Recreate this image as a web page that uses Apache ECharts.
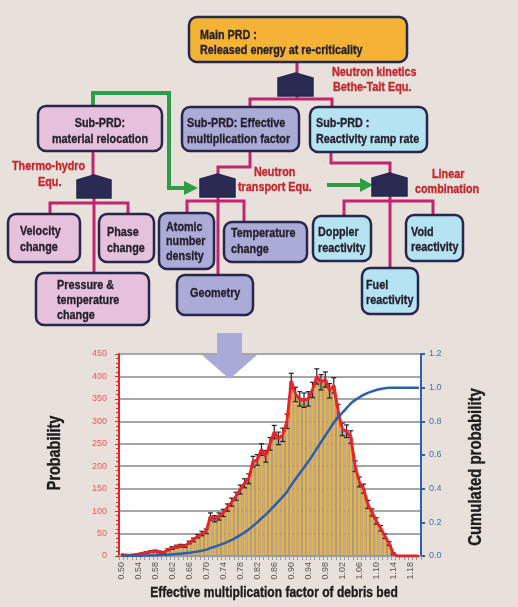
<!DOCTYPE html>
<html>
<head>
<meta charset="utf-8">
<script src="https://cdn.jsdelivr.net/npm/echarts@6/dist/echarts.min.js"></script>
<style>
html,body{margin:0;padding:0;background:#e8e0da;}
#c{width:518px;height:607px;}
</style>
</head>
<body>
<div id="c"></div>
<script>
// ---- data ----
const categories = ['0.50','0.51','0.52','0.53','0.54','0.55','0.56','0.57','0.58','0.59',
  '0.60','0.61','0.62','0.63','0.64','0.65','0.66','0.67','0.68','0.69',
  '0.70','0.71','0.72','0.73','0.74','0.75','0.76','0.77','0.78','0.79',
  '0.80','0.81','0.82','0.83','0.84','0.85','0.86','0.87','0.88','0.89',
  '0.90','0.91','0.92','0.93','0.94','0.95','0.96','0.97','0.98','0.99',
  '1.00','1.01','1.02','1.03','1.04','1.05','1.06','1.07','1.08','1.09',
  '1.10','1.11','1.12','1.13','1.14','1.15','1.16','1.17','1.18','1.19','1.20'];
const probability = [4,2,1,3,4,6,8,10,11,9,
  8,14,18,21,23,22,30,36,44,50,
  55,88,83,88,96,108,120,133,148,162,
  172,210,214,237,222,250,276,262,270,300,
  390,360,350,347,350,370,400,387,393,368,
  380,323,282,278,265,200,165,150,115,97,
  78,62,44,28,5,0,0,0,0,0,0];
const errorSize = [0,0,0,0,1,1,2,2,2,2,
  2,2,3,3,3,3,3,4,4,5,
  5,8,7,8,8,8,9,9,10,10,
  11,12,12,13,13,14,15,14,15,16,
  17,16,16,16,16,17,17,17,17,16,
  17,15,14,14,14,12,11,10,9,8,
  7,6,5,4,2,0,0,0,0,0,0];
const cumulated = [0.000,0.001,0.001,0.001,0.001,0.002,0.003,0.004,0.005,0.006,
  0.007,0.008,0.010,0.012,0.014,0.016,0.019,0.023,0.027,0.032,
  0.038,0.047,0.055,0.064,0.073,0.084,0.096,0.109,0.124,0.140,
  0.158,0.179,0.200,0.224,0.246,0.271,0.298,0.325,0.352,0.382,
  0.421,0.457,0.492,0.526,0.561,0.598,0.638,0.677,0.716,0.753,
  0.791,0.823,0.851,0.879,0.906,0.926,0.942,0.957,0.969,0.978,
  0.986,0.992,0.997,1.000,1.000,1.000,1.000,1.000,1.000,1.000,1.000];
const leftTicks = [0,50,100,150,200,250,300,350,400,450];
const rightTicks = ['0.0','0.2','0.4','0.6','0.8','1.0','1.2'];

// ---- diagram ----
const FONT = "'Liberation Sans',Arial,sans-serif";
const NAVY = '#27264c', PINK_LINE = '#c2246e', GREEN = '#2f9d48', RED_TXT = '#c3262f', TXT = '#241f2c';
const PINK = '#e6c1dc', LAV = '#aaabd6', BLUE = '#b6e3f2';
const g = [];
function line(pts, color, w){ g.push({type:'polyline', z:1, shape:{points:pts}, style:{stroke:color, lineWidth:w, fill:null}, silent:true}); }
function box(x,y,w,h,fill){ g.push({type:'rect', z:2, shape:{x:x,y:y,width:w,height:h,r:8}, style:{fill:fill, stroke:NAVY, lineWidth:2.5}, silent:true}); }
function gate(x0,y0,x1,y1){ const m=(x0+x1)/2; g.push({type:'polygon', z:3, shape:{points:[[m,y0],[x1,y0+5],[x1,y1],[x0,y1],[x0,y0+5]]}, style:{fill:'#2b2a52', stroke:NAVY, lineWidth:1.5}, silent:true}); }
function txt(s,x,y,opt){ opt=opt||{}; const c=opt.fill||TXT; g.push({type:'text', z:5, x:x, y:y, rotation:opt.rot||0, scaleX:opt.sx||0.83, scaleY:1, style:{text:s, fill:c, stroke:c, lineWidth:0.35, fontFamily:FONT, fontWeight:'bold', fontSize:opt.size||13, align:opt.align||'left', verticalAlign:'middle'}, silent:true}); }

// connectors
line([[297,62],[297,99]], PINK_LINE, 3);
line([[250,107],[250,99],[332,99],[332,107]], PINK_LINE, 3);
line([[93,151],[93,178]], PINK_LINE, 3);
line([[250,151],[250,167],[218,167],[218,178]], PINK_LINE, 3);
line([[331,152],[331,163],[390,163],[390,177]], PINK_LINE, 3);
line([[50,214],[50,203],[128,203],[128,214]], PINK_LINE, 3);
line([[94,198],[94,273]], PINK_LINE, 3);
line([[187,213],[187,201],[244,201],[244,222]], PINK_LINE, 3);
line([[218,197],[218,275]], PINK_LINE, 3);
line([[344,216],[344,201],[433,201],[433,215]], PINK_LINE, 3);
line([[390,196],[390,268]], PINK_LINE, 3);
// green arrows
line([[93,106],[93,93],[169,93],[169,188],[186,188]], GREEN, 4);
g.push({type:'polygon', z:1, shape:{points:[[184,181],[198,188],[184,195]]}, style:{fill:GREEN}, silent:true});
line([[327,185],[362,185]], GREEN, 4);
g.push({type:'polygon', z:1, shape:{points:[[360,178],[373,185],[360,192]]}, style:{fill:GREEN}, silent:true});

// boxes
box(189,17,218,45,'#f5b335');
box(38,106,124,45,PINK);
box(182,107,117,44,LAV);
box(310,107,117,45,BLUE);
box(8,214,72,48,PINK);
box(99,214,55,48,PINK);
box(36,273,113,52,PINK);
box(159,213,55,56,LAV);
box(224,222,83,40,LAV);
box(177,275,76,40,LAV);
box(313,216,58,45,BLUE);
box(406,215,57,46,BLUE);
box(362,268,56,46,BLUE);
// gates
gate(278,73,313,96);
gate(77,175,111,198);
gate(200,174,235,197);
gate(372,173,407,196);

// texts
txt('Main PRD :',200,35);
txt('Released energy at re-criticality',200,50);
txt('Neutron kinetics',332,72,{fill:RED_TXT});
txt('Bethe-Tait Equ.',333,87,{fill:RED_TXT});
txt('Sub-PRD:',100,123,{align:'center'});
txt('material relocation',100,139,{align:'center'});
txt('Sub-PRD: Effective',187,123);
txt('multiplication factor',187,139);
txt('Sub-PRD :',316,123);
txt('Reactivity ramp rate',316,139);
txt('Thermo-hydro',12,166,{fill:RED_TXT});
txt('Equ.',38,182,{fill:RED_TXT});
txt('Neutron',254,172,{fill:RED_TXT});
txt('transport Equ.',238,187,{fill:RED_TXT});
txt('Linear',432,174,{fill:RED_TXT});
txt('combination',415,189,{fill:RED_TXT});
txt('Velocity',20,231); txt('change',20,247);
txt('Phase',107,232); txt('change',107,248);
txt('Pressure &',57,285); txt('temperature',57,300); txt('change',57,315);
txt('Atomic',166,227); txt('number',166,241); txt('density',166,256);
txt('Temperature',231,233); txt('change',231,249);
txt('Geometry',190,293);
txt('Doppler',318,232); txt('reactivity',318,248);
txt('Void',411,232); txt('reactivity',411,247);
txt('Fuel',366,285); txt('reactivity',366,300);

// chart titles
txt('Probability',55,453,{rot:Math.PI/2, size:18, sx:0.8, align:'center', fill:'#1c1c1c'});
txt('Cumulated probability',476,467,{rot:Math.PI/2, size:18, sx:0.83, align:'center', fill:'#1c1c1c'});
txt('Effective multiplication factor of debris bed',274,593,{size:14, sx:0.86, align:'center', fill:'#1c1c1c'});

// big arrow
g.push({type:'polygon', z:100, shape:{points:[[217,333],[242,333],[242,355],[257,355],[229.5,379],[202,355],[217,355]]}, style:{fill:'#aaaad8'}, silent:true});

const errData = probability.map((v,i)=>[i, v, errorSize[i]]);

const chart = echarts.init(document.getElementById('c'), null, {renderer:'canvas'});
chart.setOption({
  backgroundColor:'#e8e0da',
  animation:false,
  grid:{left:119, top:354, width:302, height:202, show:true, backgroundColor:'#ffffff', borderWidth:0},
  xAxis:{type:'category', data:categories, boundaryGap:true,
    axisLine:{lineStyle:{color:'#9a9a9a', width:1}},
    axisTick:{show:true, interval:0, length:4, lineStyle:{color:'#9a9a9a'}},
    axisLabel:{interval:3, rotate:90, color:'#555', fontSize:9, fontFamily:'Liberation Sans', margin:6},
    splitLine:{show:false}},
  yAxis:[
    {type:'value', min:0, max:450, interval:50,
      axisLine:{show:true, lineStyle:{color:'#e8202a', width:2}},
      axisTick:{show:true, length:4, lineStyle:{color:'#e8202a'}},
      minorTick:{show:true, splitNumber:5, length:3, lineStyle:{color:'#e8202a'}},
      axisLabel:{color:'#e8585e', fontSize:9, fontFamily:'Liberation Sans', margin:12,
        formatter:(v)=>leftTicks.indexOf(v)>=0?String(v):''},
      splitLine:{show:true, lineStyle:{color:'#a6a6a6', width:2}}},
    {type:'value', min:0, max:1.2, interval:0.2, position:'right',
      axisLine:{show:true, lineStyle:{color:'#2e5fae', width:2}},
      axisTick:{show:true, length:4, lineStyle:{color:'#2e5fae', width:2}},
      axisLabel:{color:'#4a6fb5', fontSize:9, fontFamily:'Liberation Sans', margin:8,
        formatter:(v)=>rightTicks[Math.round(v/0.2)]},
      splitLine:{show:false}}
  ],
  series:[
    {type:'bar', data:probability, barCategoryGap:'0%', itemStyle:{color:'#f5b335', borderColor:'#9a9a9a', borderWidth:1}, z:2},
    {type:'custom', data:errData, z:4,
      renderItem:function(params, api){
        const i=api.value(0), v=api.value(1), e=api.value(2);
        if(!e) return null;
        const top=api.coord([i, v+e]), bot=api.coord([i, v-e]);
        const st={stroke:'#222', lineWidth:1.2};
        return {type:'group', children:[
          {type:'line', shape:{x1:top[0],y1:top[1],x2:bot[0],y2:bot[1]}, style:st},
          {type:'line', shape:{x1:top[0]-2.5,y1:top[1],x2:top[0]+2.5,y2:top[1]}, style:st},
          {type:'line', shape:{x1:bot[0]-2.5,y1:bot[1],x2:bot[0]+2.5,y2:bot[1]}, style:st}
        ]};
      }},
    {type:'line', data:probability, symbol:'none', z:5, lineStyle:{color:'#e8242a', width:3}},
    {type:'line', data:cumulated, yAxisIndex:1, symbol:'none', smooth:true, z:6, lineStyle:{color:'#2d5fae', width:2.5}}
  ],
  graphic:g
});
</script>
</body>
</html>
